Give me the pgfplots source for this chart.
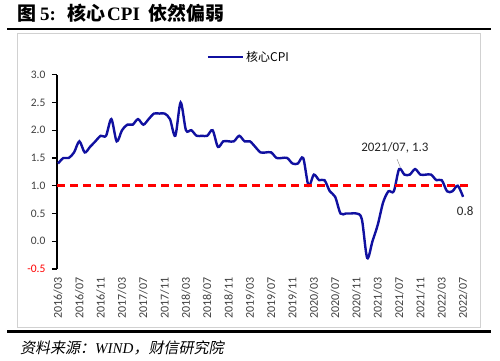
\documentclass[border=0pt]{standalone}
\usepackage{fontspec}
\setmainfont{Carlito}
\newfontfamily\cjk{Noto Sans CJK SC}
\newfontfamily\cjkit[FakeSlant=0.2]{Noto Sans CJK SC}
\newfontfamily\serif{Liberation Serif}
\usepackage{pgfplots}
\usepackage{pgfplotstable}
\pgfplotsset{compat=1.18}
\definecolor{cpiblue}{RGB}{16,16,160}
\definecolor{tickgray}{RGB}{64,64,64}
\pgfplotstableread{
x y
0 1.4
1 1.5
2 1.5
3 1.6
4 1.8
5 1.6
6 1.7
7 1.8
8 1.9
9 1.9
10 2.2
11 1.8
12 2.0
13 2.1
14 2.1
15 2.2
16 2.1
17 2.2
18 2.3
19 2.3
20 2.3
21 2.2
22 1.9
23 2.5
24 2.0
25 2.0
26 1.9
27 1.9
28 1.9
29 2.0
30 1.7
31 1.8
32 1.8
33 1.8
34 1.9
35 1.8
36 1.8
37 1.7
38 1.6
39 1.6
40 1.6
41 1.5
42 1.5
43 1.5
44 1.4
45 1.4
46 1.5
47 1.0
48 1.2
49 1.1
50 1.1
51 0.9
52 0.8
53 0.5
54 0.5
55 0.5
56 0.5
57 0.4
58 -0.3
59 0.0
60 0.3
61 0.7
62 0.9
63 0.9
64 1.3
65 1.2
66 1.2
67 1.3
68 1.2
69 1.2
70 1.2
71 1.1
72 1.1
73 0.9
74 0.9
75 1.0
76 0.8
}\coredata
\begin{document}
\begin{tikzpicture}[x=1pt,y=1pt]
\path[use as bounding box] (0,0) rectangle (500,360);
\fill[white] (0,0) rectangle (500,360);
\begin{scope}[every node/.style={anchor=base west, inner sep=0, font=\fontsize{19}{21}\selectfont}]
\node at (17,340) {\cjk\bfseries 图};
\node at (40,340) {\serif\bfseries 5:};
\node at (67,340) {\cjk\bfseries 核心};
\node at (107,340) {\serif\bfseries CPI};
\node at (148,340) {\cjk\bfseries 依然偏弱};
\end{scope}
\draw[line width=2.5] (7,331) -- (491,331);
\draw[black!18, line width=0.8] (17,33) rectangle (480,327);
\draw[line width=2.5] (7,28.5) -- (491,28.5);
\node[anchor=base west, inner sep=0] at (20,7) {\fontsize{15}{17}\selectfont\cjkit 资料来源：{\serif\itshape WIND}，财信研究院};
\begin{axis}[
  at={(57pt,91pt)}, anchor=south west,
  scale only axis, width=413pt, height=194.3pt,
  xmin=-0.2, xmax=77.3, ymin=-0.5, ymax=3.0,
  axis y line*=left, axis x line*=bottom,
  axis line style={-},
  x axis line style={draw=none},
  y axis line style={line width=1.2pt, black},
  xtick={0,4,...,76},
  xticklabels={2016/03,2016/07,2016/11,2017/03,2017/07,2017/11,2018/03,2018/07,2018/11,2019/03,2019/07,2019/11,2020/03,2020/07,2020/11,2021/03,2021/07,2021/11,2022/03,2022/07},
  xticklabel style={rotate=90, anchor=east, font=\fontsize{12}{12}\selectfont, text=tickgray},
  xtick style={draw=none},
  ytick={-0.5,0,...,3},
  yticklabels={\textcolor{red}{-0.5},0.0,0.5,1.0,1.5,2.0,2.5,3.0},
  yticklabel style={font=\fontsize{11.5}{11.5}\selectfont, text=tickgray, xshift=-3pt},
  ytick style={line width=1.2pt, black},
  tick align=outside, major tick length=5pt,
  clip=false,
  legend style={at={(0.362,1.091)}, anchor=west, draw=none, fill=none, font=\fontsize{12}{12}\selectfont, inner sep=0pt},
  legend image code/.code={\draw[#1, line width=2.4pt] (0pt,0pt) -- (35pt,0pt);},
]
\addplot[cpiblue, line width=2.4pt, smooth, tension=0.5] table {\coredata};
\addlegendentry{\cjk 核心CPI}
\addplot[red, line width=2.5pt, dash pattern=on 8pt off 5pt, forget plot] coordinates {(-0.2,1) (77,1)};
\node[font=\fontsize{13}{13}\selectfont, text=black!85] at (axis cs:63.2,1.685) {2021/07, 1.3};
\draw[gray] (axis cs:63.6,1.48) -- (axis cs:64.2,1.34);
\node[font=\fontsize{13}{13}\selectfont, text=black!85] at (axis cs:76.4,0.55) {0.8};
\end{axis}
\end{tikzpicture}
\end{document}
